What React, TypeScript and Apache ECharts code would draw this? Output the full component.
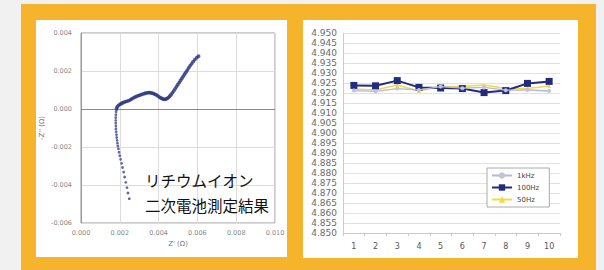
import React, { useEffect, useRef } from "react";
import * as echarts from "echarts";

// Left chart: Nyquist plot (Z' , -Z'')
const curveZ: number[][] = [
  [0.00183, 0.0], [0.00186, 0.0001], [0.00192, 0.00018], [0.002, 0.00024], [0.00208, 0.00029],
  [0.00216, 0.00033], [0.00225, 0.00037], [0.00234, 0.0004], [0.00243, 0.00043], [0.00252, 0.00047],
  [0.0026, 0.00052], [0.00268, 0.00057], [0.00277, 0.00062], [0.00286, 0.00066], [0.00295, 0.0007],
  [0.00304, 0.00073], [0.00313, 0.00077], [0.00322, 0.0008], [0.00331, 0.00083], [0.0034, 0.00085],
  [0.00348, 0.00086], [0.00356, 0.00086], [0.00364, 0.00084], [0.00372, 0.00082], [0.0038, 0.00078],
  [0.00388, 0.00074], [0.00396, 0.00069], [0.00404, 0.00063], [0.00412, 0.00058], [0.0042, 0.00054],
  [0.00428, 0.00051], [0.00436, 0.00052], [0.00443, 0.00055], [0.0045, 0.0006], [0.00457, 0.00067],
  [0.00464, 0.00075], [0.00471, 0.00085], [0.00478, 0.00095], [0.00485, 0.00106], [0.00492, 0.00117],
  [0.00499, 0.00128], [0.00506, 0.00139], [0.00513, 0.0015], [0.0052, 0.00161], [0.00527, 0.00172],
  [0.00534, 0.00183], [0.00541, 0.00194], [0.00548, 0.00205], [0.00555, 0.00216], [0.00562, 0.00227],
  [0.0057, 0.00238], [0.00578, 0.00249], [0.00587, 0.0026], [0.00597, 0.0027], [0.00606, 0.00278],
];
const tailZ: number[][] = [
  [0.00181, -0.00015], [0.0018, -0.0003], [0.00179, -0.00045], [0.00179, -0.0006], [0.00179, -0.00075],
  [0.0018, -0.0009], [0.0018, -0.00105], [0.00181, -0.0012], [0.00183, -0.00135], [0.00184, -0.0015],
  [0.00186, -0.00165], [0.00188, -0.0018], [0.0019, -0.00195], [0.00193, -0.0021], [0.00196, -0.00228],
  [0.002, -0.00246], [0.00204, -0.00265], [0.00209, -0.00286], [0.00214, -0.00308], [0.0022, -0.00332],
  [0.00225, -0.00358], [0.00231, -0.00386], [0.00237, -0.00414], [0.00242, -0.00442], [0.00249, -0.00472],
];

// Right chart
const categories = ["1", "2", "3", "4", "5", "6", "7", "8", "9", "10"];
const s1kHz = [4.9212, 4.9208, 4.9222, 4.9215, 4.9232, 4.9224, 4.9228, 4.9214, 4.9215, 4.921];
const s100Hz = [4.9238, 4.9236, 4.9262, 4.9228, 4.9225, 4.9222, 4.9202, 4.9212, 4.9248, 4.9258];
const s50Hz = [4.922, 4.9215, 4.924, 4.921, 4.9232, 4.9232, 4.924, 4.9222, 4.9222, 4.9235];
const seriesNames = ["1kHz", "100Hz", "50Hz"];

export default function App() {
  const ref = useRef<HTMLDivElement>(null);
  useEffect(() => {
    if (!ref.current) return;
    const chart = echarts.init(ref.current, null, { renderer: "svg" });
    const labelFont = "DejaVu Sans";
    chart.setOption({
      animation: false,
      backgroundColor: "#f1f1f1",
      graphic: [
        { type: "rect", shape: { x: 21, y: 4, width: 575, height: 270 }, style: { fill: "#f6b42c" }, z: -10 },
        { type: "rect", shape: { x: 36, y: 20, width: 251, height: 237 }, style: { fill: "#ffffff" }, z: -9 },
        { type: "rect", shape: { x: 303, y: 20, width: 275, height: 238 }, style: { fill: "#ffffff" }, z: -9 },
        {
          type: "text", x: 145, y: 180, z: 20,
          style: { text: "リチウムイオン", fontSize: 15.5, fontFamily: "Noto Sans CJK JP", fill: "#111", textVerticalAlign: "middle" },
        },
        {
          type: "text", x: 145, y: 205, z: 20,
          style: { text: "二次電池測定結果", fontSize: 15.5, fontFamily: "Noto Sans CJK JP", fill: "#111", textVerticalAlign: "middle" },
        },
      ],
      legend: {
        data: seriesNames,
        left: 487,
        top: 168,
        orient: "vertical",
        backgroundColor: "#fff",
        borderColor: "#aaa",
        borderWidth: 1,
        borderRadius: 0,
        padding: [4, 10, 4, 4],
        itemGap: 5,
        itemWidth: 20,
        itemHeight: 8,
        textStyle: { fontSize: 7, color: "#444", fontFamily: labelFont },
      },
      grid: [
        { left: 81, top: 33, width: 194, height: 190, show: true, borderColor: "#999", borderWidth: 1, backgroundColor: "#fff" },
        { left: 343, top: 33, width: 217, height: 200 },
      ],
      xAxis: [
        {
          gridIndex: 0, type: "value", min: 0, max: 0.01, interval: 0.002,
          name: "Z' (Ω)", nameLocation: "middle", nameGap: 13,
          nameTextStyle: { fontSize: 7, color: "#777", fontFamily: labelFont },
          axisLine: { show: false }, axisTick: { show: false },
          axisLabel: { fontSize: 6.5, color: "#888", margin: 6, fontFamily: labelFont, formatter: (v: number) => v.toFixed(3) },
          splitLine: { show: true, lineStyle: { color: "#dcdcdc", width: 1 } },
        },
        {
          gridIndex: 1, type: "category", data: categories, boundaryGap: true,
          axisLine: { show: true, lineStyle: { color: "#ccc" } },
          axisTick: { show: true, lineStyle: { color: "#ccc" }, length: 3 },
          axisLabel: { fontSize: 8, color: "#555", margin: 9, fontFamily: labelFont },
          splitLine: { show: false },
        },
      ],
      yAxis: [
        {
          gridIndex: 0, type: "value", min: -0.006, max: 0.004, interval: 0.002,
          name: "-Z'' (Ω)", nameLocation: "middle", nameGap: 36, nameRotate: 90,
          nameTextStyle: { fontSize: 7, color: "#777", fontFamily: labelFont },
          axisLine: { show: true, onZero: false, lineStyle: { color: "#999" } }, axisTick: { show: false },
          axisLabel: { fontSize: 6.5, color: "#888", margin: 9, fontFamily: labelFont, formatter: (v: number) => v.toFixed(3) },
          splitLine: { show: true, lineStyle: { color: "#dcdcdc", width: 1 } },
        },
        {
          gridIndex: 1, type: "value", min: 4.85, max: 4.95, interval: 0.005,
          axisLine: { show: true, lineStyle: { color: "#ccc" } }, axisTick: { show: false },
          axisLabel: { fontSize: 9, color: "#6a6a6a", margin: 6, fontFamily: labelFont, formatter: (v: number) => v.toFixed(3) },
          splitLine: { show: true, lineStyle: { color: "#e2e2e2", width: 1 } },
        },
      ],
      series: [
        {
          type: "scatter", xAxisIndex: 0, yAxisIndex: 0, data: curveZ, symbolSize: 3.8,
          itemStyle: { color: "#2b347e" }, z: 5,
          markLine: {
            silent: true, symbol: "none", label: { show: false },
            lineStyle: { color: "#8a8a8a", width: 1.2, type: "solid" },
            data: [{ yAxis: 0 }],
          },
        },
        {
          type: "scatter", xAxisIndex: 0, yAxisIndex: 0, data: tailZ, symbolSize: 2.8,
          itemStyle: { color: "#3a4590" }, z: 5,
        },
        {
          name: "1kHz", type: "line", xAxisIndex: 1, yAxisIndex: 1, data: s1kHz,
          symbol: "circle", symbolSize: 4, z: 4,
          lineStyle: { color: "#b3b8dc", width: 1.3 }, itemStyle: { color: "#c2c4d6" },
        },
        {
          name: "100Hz", type: "line", xAxisIndex: 1, yAxisIndex: 1, data: s100Hz,
          symbol: "rect", symbolSize: 7, z: 3,
          lineStyle: { color: "#232c7c", width: 2 }, itemStyle: { color: "#232c7c" },
        },
        {
          name: "50Hz", type: "line", xAxisIndex: 1, yAxisIndex: 1, data: s50Hz,
          symbol: "triangle", symbolSize: 4, z: 2,
          lineStyle: { color: "#f2d84a", width: 1.5 }, itemStyle: { color: "#f2d84a" },
        },
      ],
    });
    return () => chart.dispose();
  }, []);
  return <div ref={ref} style={{ position: "absolute", left: 0, top: 0, width: 604, height: 270 }} />;
}
